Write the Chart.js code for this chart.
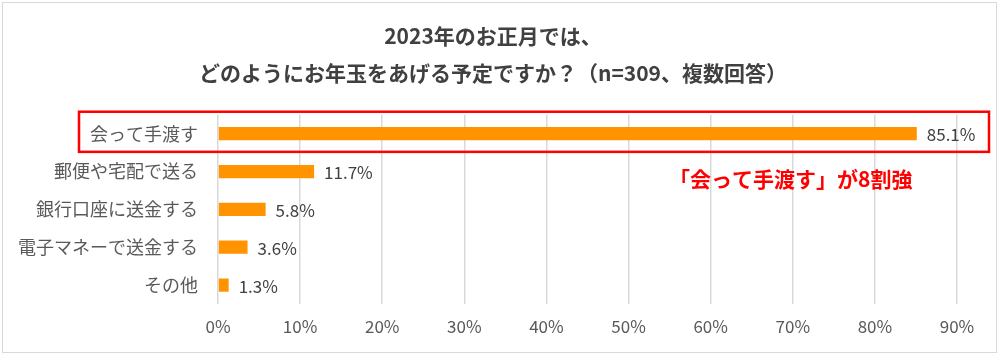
<!DOCTYPE html>
<html>
<head>
<meta charset="utf-8">
<script src="https://cdn.jsdelivr.net/npm/chart.js@4"></script>
<style>
html,body{margin:0;padding:0;background:#fff;}
#wrap{width:1000px;height:356px;position:relative;}
</style>
</head>
<body>
<div id="wrap"><canvas id="c" width="1000" height="356"></canvas></div>
<script>
const titleLines = ['2023年のお正月では、', 'どのようにお年玉をあげる予定ですか？（n=309、複数回答）'];
const categories = ['会って手渡す', '郵便や宅配で送る', '銀行口座に送金する', '電子マネーで送金する', 'その他'];
const values = [85.1, 11.7, 5.8, 3.6, 1.3];
const xTicks = [0, 10, 20, 30, 40, 50, 60, 70, 80, 90];
const annotationText = '「会って手渡す」が8割強';

const FONT = '"Noto Sans CJK JP", "Noto Sans", sans-serif';

const extras = {
  id: 'extras',
  afterLayout(chart) {
    if (chart.titleBlock) {
      chart.titleBlock.left = 0;
      chart.titleBlock.right = chart.width - 14;
    }
  },
  beforeDraw(chart) {
    const ctx = chart.ctx;
    ctx.save();
    ctx.fillStyle = '#fff';
    ctx.fillRect(0, 0, chart.width, chart.height);
    ctx.strokeStyle = '#d9d9d9';
    ctx.lineWidth = 1;
    ctx.strokeRect(2.5, 2.5, chart.width - 6, chart.height - 6);
    ctx.restore();
  },
  afterDatasetsDraw(chart) {
    const ctx = chart.ctx;
    const meta = chart.getDatasetMeta(0);
    const xs = chart.scales.x, ys = chart.scales.y;
    ctx.save();
    ctx.font = '17px ' + FONT;
    ctx.fillStyle = '#404040';
    ctx.textAlign = 'left';
    ctx.textBaseline = 'middle';
    meta.data.forEach((bar, i) => {
      ctx.fillText(values[i].toFixed(1) + '%', bar.x + 10, bar.y + 1);
    });
    // highlight box around first category
    const y0 = ys.getPixelForValue(0);
    const band = ys.getPixelForValue(1) - y0;
    ctx.strokeStyle = '#ff0000';
    ctx.lineWidth = 2.5;
    ctx.strokeRect(79, y0 - band * 0.58, chart.width - 79 - 11, band * 1.06);
    // annotation
    ctx.font = 'bold 21px ' + FONT;
    ctx.fillStyle = '#ff0000';
    ctx.textAlign = 'center';
    ctx.fillText(annotationText, xs.getPixelForValue(65) + 39, y0 + band * 1.2);
    ctx.restore();
  }
};

new Chart(document.getElementById('c'), {
  type: 'bar',
  data: {
    labels: categories,
    datasets: [{
      data: values,
      backgroundColor: '#ff9300',
      borderWidth: 0,
      barPercentage: 0.7,
      categoryPercentage: 0.5
    }]
  },
  options: {
    indexAxis: 'y',
    responsive: false,
    animation: false,
    devicePixelRatio: 1,
    layout: { padding: { left: 0, right: 43, top: 0, bottom: 0 } },
    plugins: {
      legend: { display: false },
      tooltip: { enabled: false },
      title: {
        display: true,
        text: titleLines,
        color: '#404040',
        font: { family: FONT, size: 21, weight: 'bold', lineHeight: 1.78 },
        padding: { top: 17, bottom: 23 }
      }
    },
    scales: {
      x: {
        min: 0,
        max: 90,
        afterBuildTicks(scale) { scale.ticks = xTicks.map(v => ({ value: v })); },
        afterFit(scale) { scale.height = 52; },
        ticks: {
          callback: v => v + '%',
          color: '#595959',
          font: { family: FONT, size: 17 },
          padding: 12
        },
        grid: { color: '#d9d9d9', drawTicks: false, lineWidth: 1.5 },
        border: { display: false }
      },
      y: {
        afterFit(scale) { scale.width = 218; },
        ticks: {
          color: '#595959',
          font: { family: FONT, size: 18 },
          padding: 20
        },
        grid: { display: false, drawTicks: false },
        border: { display: false }
      }
    }
  },
  plugins: [extras]
});
</script>
</body>
</html>
